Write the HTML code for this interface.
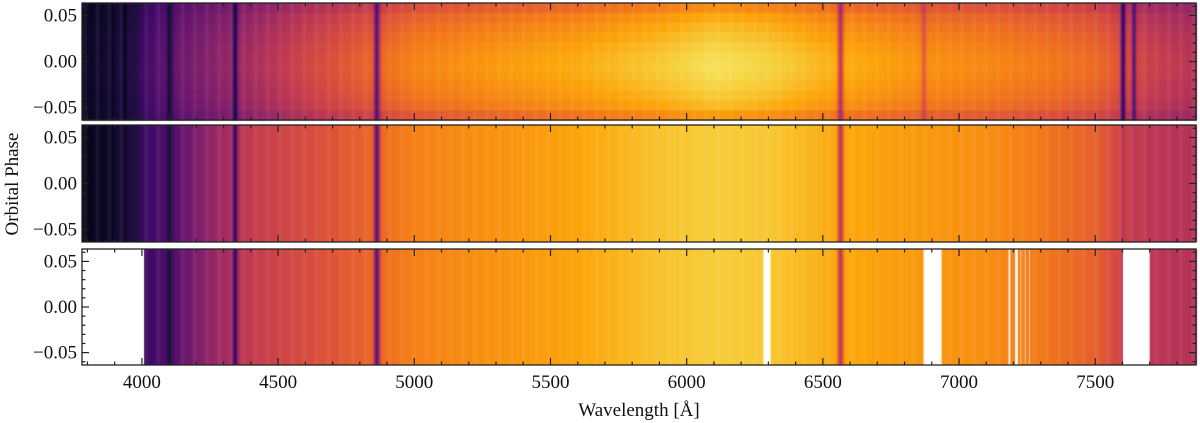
<!DOCTYPE html>
<html><head><meta charset="utf-8"><style>
body{margin:0;background:#fff;width:1200px;height:423px;overflow:hidden;font-family:"Liberation Serif",serif}
#wrap{position:relative;width:1200px;height:423px}
canvas,svg{position:absolute;left:0;top:0}
text{font-family:"Liberation Serif",serif}
</style></head><body>
<div id="wrap">
<canvas id="cv" width="1200" height="423"></canvas>
<svg id="sv" width="1200" height="423"></svg>
</div>
<script>
// ---- data ----
const contWl  = [3780,3850,3950,4000,4100,4250,4400,4600,4800,5000,5300,5600,5900,6100,6300,6500,6700,6900,7100,7300,7500,7600,7700,7870];
const contTop = [0.04,0.06,0.12,0.18,0.28,0.36,0.44,0.55,0.63,0.72,0.77,0.81,0.87,0.92,0.89,0.83,0.79,0.75,0.73,0.70,0.66,0.60,0.53,0.48];
const contMid = [0.04,0.06,0.12,0.18,0.24,0.40,0.52,0.58,0.64,0.72,0.76,0.80,0.86,0.88,0.87,0.82,0.79,0.77,0.75,0.70,0.64,0.55,0.50,0.48];
const lineWl    = [3890,3934,3970,4101,4340,4861,6563,6870,7600,7640];
const lineDepth = [0.05,0.10,0.10,0.25,0.30,0.45,0.35,0.15,0.45,0.35];
const lineDepth2= [0.04,0.06,0.08,0.18,0.30,0.45,0.35,0.00,0.05,0.03];
const lineWidth = [8,7,8,10,9,10,10,9,9,8];
const phaseRows = [0.55,0.70,0.78,0.84,0.90,0.94,0.96,0.94,0.90,0.85,0.78,0.62];
const gapStart = [3780,6280,6870,7180,7205,7225,7240,7255,7600];
const gapEnd   = [4010,6310,6935,7190,7215,7230,7245,7262,7700];
const xTicks = [4000,4500,5000,5500,6000,6500,7000,7500];
const yTicks = [0.05,0.00,-0.05];
// ---- scales ----
const X0=82,X1=1196,W0=3780,W1=7870;
const xs=w=>X0+(w-W0)/(W1-W0)*(X1-X0);
const panels=[{t:3,b:120},{t:125,b:242},{t:249,b:365}];
const YMAX=0.0636;
const ys=(p,v)=>(p.t+p.b)/2-v/YMAX*(p.b-p.t)/2;
const inf=[[0,0,4],[22,11,57],[66,10,104],[106,23,110],[147,38,103],[188,55,84],[221,81,58],[243,120,25],[252,165,10],[246,215,70],[252,255,164]];
function cmap(v){v=Math.max(0,Math.min(1,v));const f=v*10,i=Math.min(9,Math.floor(f)),t=f-i;const a=inf[i],b=inf[i+1];
return `rgb(${a.map((c,k)=>Math.round(c+(b[k]-c)*t)).join(',')})`;}
function interp(w,arr){for(let i=0;i<contWl.length-1;i++){if(w<=contWl[i+1]){const t=(w-contWl[i])/(contWl[i+1]-contWl[i]);return arr[i]+(arr[i+1]-arr[i])*t;}}return arr[arr.length-1];}
function val(w,arr,depths){let v=interp(w,arr);for(let i=0;i<lineWl.length;i++){const d=(w-lineWl[i])/lineWidth[i];v-=depths[i]*Math.exp(-d*d);}return v;}
const ctx=document.getElementById('cv').getContext('2d');
const step=4;
for(let w=W0;w<W1;w+=step){
  const x=xs(w),wd=xs(w+step)-x+0.5;
  const p=panels[0],rh=(p.b-p.t)/phaseRows.length;
  const base=val(w,contTop,lineDepth);
  phaseRows.forEach((r,j)=>{ctx.fillStyle=cmap(base*(0.55+0.45*r)+0.02);ctx.fillRect(x,p.t+j*rh,wd,rh+0.5);});
  const v2=val(w,contMid,lineDepth2);
  ctx.fillStyle=cmap(v2);ctx.fillRect(x,panels[1].t,wd,panels[1].b-panels[1].t);
  let gap=false;for(let g=0;g<gapStart.length;g++)if(w+step/2>=gapStart[g]&&w+step/2<gapEnd[g])gap=true;
  if(!gap){ctx.fillStyle=cmap(v2);ctx.fillRect(x,panels[2].t,wd,panels[2].b-panels[2].t);}
}
// ---- axes ----
const sv=document.getElementById('sv');const NS='http://www.w3.org/2000/svg';
function el(t,a,parent){const e=document.createElementNS(NS,t);for(const k in a)e.setAttribute(k,a[k]);(parent||sv).appendChild(e);return e;}
const FF='Liberation Serif, serif';
panels.forEach((p,i)=>{
  const g=el('g',{});
  
  
  el('rect',{x:X0,y:p.t,width:X1-X0,height:p.b-p.t,fill:'none',stroke:'#222','stroke-width':1.3},g);
  for(let w=3800;w<=7800;w+=100){const maj=w%500===0,L=maj?7:3.5,x=xs(w);
    el('line',{x1:x,x2:x,y1:p.b,y2:p.b-L,stroke:'#222','stroke-width':1.2},g);
    el('line',{x1:x,x2:x,y1:p.t,y2:p.t+L,stroke:'#222','stroke-width':1.2},g);}
  for(let k=-6;k<=6;k++){const v=k/100,maj=k%5===0,L=maj?7:3.5,y=ys(p,v);
    el('line',{x1:X0,x2:X0+L,y1:y,y2:y,stroke:'#222','stroke-width':1.2},g);
    el('line',{x1:X1,x2:X1-L,y1:y,y2:y,stroke:'#222','stroke-width':1.2},g);}
  yTicks.forEach(v=>{const t=el('text',{x:X0-5,y:ys(p,v)+6,'text-anchor':'end','font-size':19,'font-family':FF,fill:'#111'},g);
    
    
    t.textContent=(v<0?'\u22120.05':v.toFixed(2));});
});
xTicks.forEach(w=>{const t=el('text',{x:xs(w),y:388,'text-anchor':'middle','font-size':19,'font-family':FF,fill:'#111'});
  
  
  t.textContent=w;});
const xt=el('text',{x:639,y:416,'text-anchor':'middle','font-size':19,'font-family':FF,fill:'#111'});


xt.textContent='Wavelength [Å]';
const yt=el('text',{x:0,y:0,'text-anchor':'middle','font-size':19,'font-family':FF,fill:'#111',transform:'translate(18,184) rotate(-90)'});


yt.textContent='Orbital Phase';
</script>
</body></html>
